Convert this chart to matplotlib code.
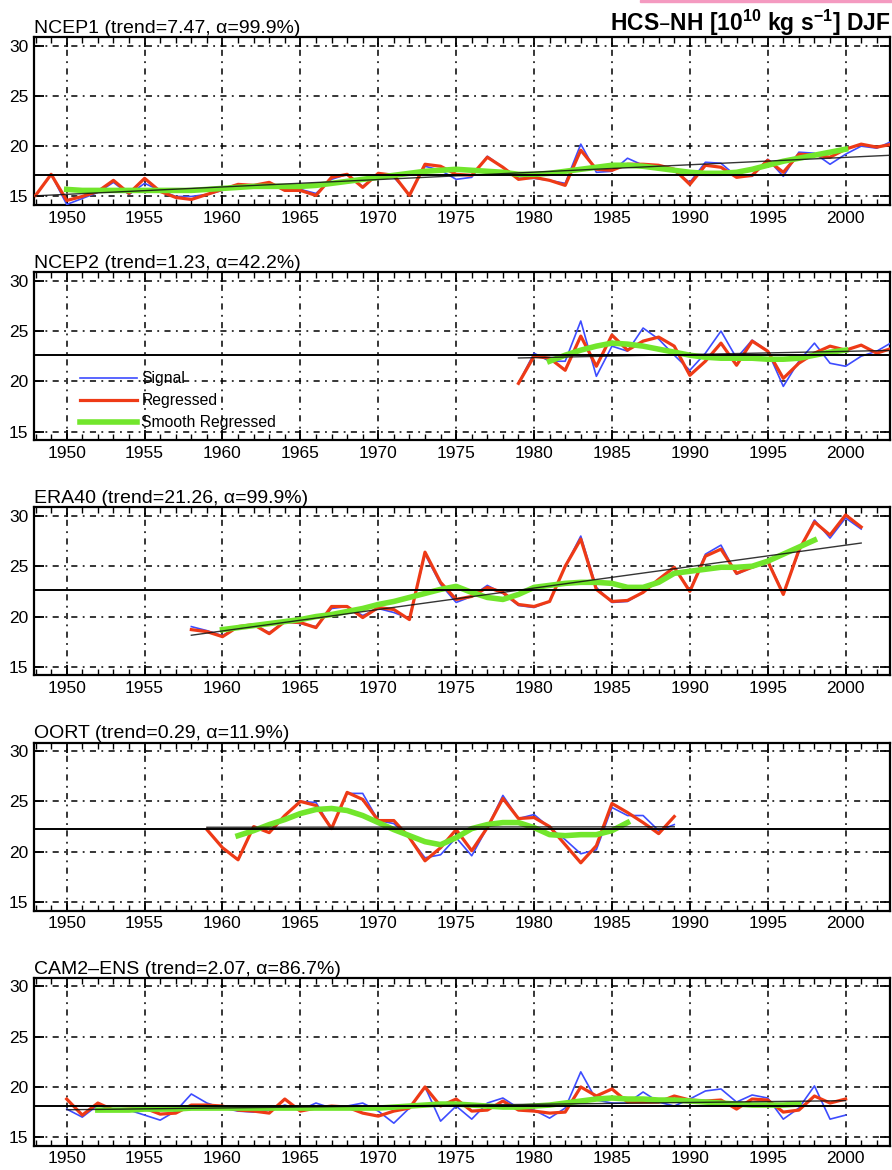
import numpy as np
import matplotlib.pyplot as plt
from matplotlib.ticker import MultipleLocator, FixedLocator
from matplotlib.patches import Rectangle

plt.rcParams['font.family'] = ['Liberation Sans', 'DejaVu Sans']
plt.rcParams['mathtext.default'] = 'regular'

# datasets, trend stats and horizontal reference level
names = ['NCEP1', 'NCEP2', 'ERA40', 'OORT', 'CAM2–ENS']
trends = ['7.47', '1.23', '21.26', '0.29', '2.07']
alphas = ['99.9', '42.2', '99.9', '11.9', '86.7']
mean_levels = [17.1, 22.6, 22.6, 22.3, 18.1]

# first year of signal/regressed series
start_years = [1948, 1979, 1958, 1959, 1950]

ncep1_signal = [15.1, 17.2, 14.2, 14.8, 15.4, 16.4, 15.2, 16.3, 15.6, 15.0, 15.0, 15.2, 15.6, 16.1,
                16.1, 16.3, 15.6, 15.7, 15.3, 16.7, 17.2, 16.0, 17.2, 16.9, 15.2, 18.0, 17.6, 16.7,
                16.9, 19.0, 17.9, 16.8, 16.8, 16.6, 16.3, 20.2, 17.4, 17.5, 18.8, 18.1, 18.0, 17.5,
                16.4, 18.4, 18.3, 17.0, 17.0, 18.7, 17.0, 19.4, 19.3, 18.2, 19.2, 20.0, 19.8, 20.5]
ncep1_regressed = [15.1, 17.2, 14.6, 15.0, 15.5, 16.6, 15.3, 16.8, 15.5, 14.9, 14.7, 15.2, 15.7, 16.2,
                   16.1, 16.4, 15.6, 15.6, 15.1, 16.9, 17.2, 15.9, 17.3, 17.1, 15.1, 18.2, 18.0, 17.2,
                   17.1, 18.9, 17.9, 16.7, 16.9, 16.6, 16.1, 19.6, 17.7, 17.6, 18.2, 18.2, 18.1, 17.7,
                   16.2, 18.1, 17.9, 16.9, 17.1, 18.6, 17.4, 19.2, 19.1, 18.9, 19.7, 20.2, 19.9, 20.2]

ncep2_signal = [19.8, 22.8, 22.0, 22.0, 26.0, 20.5, 23.5, 23.0, 25.3, 24.2, 22.6, 21.1, 22.8,
                25.0, 22.3, 24.1, 23.0, 19.5, 22.0, 23.8, 21.8, 21.5, 22.5, 23.0, 23.9]
ncep2_regressed = [19.8, 22.5, 22.3, 21.1, 24.5, 21.5, 24.6, 23.1, 24.0, 24.4, 23.5, 20.6, 22.0,
                   23.8, 21.6, 24.0, 23.0, 20.3, 21.8, 22.8, 23.5, 23.1, 23.6, 22.8, 23.3]

era40_signal = [19.0, 18.6, 18.1, 19.0, 19.2, 18.4, 19.5, 19.3, 19.0, 20.8, 21.0, 20.1, 20.8, 20.4,
                19.8, 26.2, 23.2, 21.4, 22.0, 23.1, 22.3, 21.1, 20.9, 21.5, 25.0, 28.0, 22.9, 21.4,
                21.5, 22.4, 23.6, 24.9, 22.6, 26.2, 27.1, 24.2, 24.9, 25.6, 22.3, 26.4, 29.6, 27.8,
                29.8, 28.7]
era40_regressed = [18.7, 18.5, 18.0, 19.0, 19.2, 18.3, 19.5, 19.4, 18.9, 21.0, 21.0, 19.9, 20.9, 20.7,
                   19.7, 26.4, 23.4, 21.7, 22.0, 22.9, 22.4, 21.2, 21.0, 21.5, 25.0, 27.7, 22.7, 21.5,
                   21.6, 22.4, 23.7, 24.9, 22.5, 26.0, 26.7, 24.3, 24.9, 25.5, 22.2, 26.6, 29.4, 28.1,
                   30.1, 28.9]

oort_signal = [22.2, 20.4, 19.2, 22.5, 21.9, 23.6, 25.0, 24.9, 22.3, 25.8, 25.8, 23.1, 22.8, 21.4,
               19.4, 19.7, 21.4, 19.6, 22.4, 25.6, 23.3, 23.7, 22.4, 21.2, 19.8, 20.2, 24.4, 23.6,
               23.6, 22.1, 22.7]
oort_regressed = [22.2, 20.4, 19.2, 22.5, 21.9, 23.6, 25.0, 24.6, 22.3, 25.9, 25.2, 23.1, 23.1, 21.4,
                  19.1, 20.4, 22.2, 20.1, 22.4, 25.3, 23.3, 23.4, 22.5, 20.7, 18.9, 20.6, 24.8, 23.9,
                  22.9, 21.8, 23.5]

cam2_signal = [17.8, 17.0, 18.2, 17.7, 17.7, 17.2, 16.7, 17.6, 19.3, 18.4, 17.9, 17.6, 17.5, 17.7,
               18.2, 17.7, 18.4, 17.9, 18.1, 18.4, 17.6, 16.4, 17.9, 20.0, 16.6, 18.1, 16.8, 18.4,
               18.9, 17.9, 17.7, 16.9, 17.9, 21.5, 18.7, 18.4, 18.4, 19.5, 18.5, 18.1, 18.8, 19.6,
               19.8, 18.5, 19.2, 18.9, 16.8, 17.9, 20.1, 16.8, 17.2]
cam2_regressed = [18.8, 17.2, 18.4, 17.7, 17.8, 17.9, 17.3, 17.4, 18.2, 18.2, 18.1, 17.7, 17.6, 17.4,
                  18.8, 17.6, 17.9, 18.1, 18.0, 17.4, 17.1, 17.6, 17.9, 20.0, 18.1, 18.8, 17.6, 17.7,
                  18.6, 17.7, 17.6, 17.4, 17.5, 20.0, 19.1, 19.8, 18.5, 18.5, 18.5, 19.1, 18.7, 18.6,
                  18.7, 17.8, 18.8, 18.7, 17.5, 17.7, 19.1, 18.4, 18.8]

# smoothed regressed series
smooth_start = [1950, 1981, 1960, 1961, 1952]
ncep1_smooth = [15.7, 15.6, 15.6, 15.6, 15.6, 15.6, 15.6, 15.6, 15.6, 15.7, 15.8, 15.9, 16.0, 16.0,
                16.0, 16.0, 16.1, 16.3, 16.5, 16.7, 16.9, 17.1, 17.3, 17.5, 17.6, 17.7, 17.6, 17.5,
                17.4, 17.2, 17.2, 17.3, 17.5, 17.7, 17.9, 18.1, 18.1, 18.0, 17.8, 17.6, 17.4, 17.3,
                17.3, 17.4, 17.7, 18.1, 18.5, 18.8, 19.1, 19.4, 19.7]
ncep2_smooth = [22.0, 22.6, 23.1, 23.5, 23.8, 23.7, 23.5, 23.2, 22.9, 22.6, 22.4, 22.3, 22.3, 22.3,
                22.2, 22.2, 22.3, 22.6, 22.9, 23.1]
era40_smooth = [18.7, 18.9, 19.1, 19.3, 19.5, 19.7, 20.0, 20.2, 20.5, 20.8, 21.2, 21.5, 21.9, 22.3,
                22.7, 23.0, 22.4, 21.9, 21.7, 22.2, 22.9, 23.1, 23.3, 23.4, 23.4, 23.3, 22.9, 22.9,
                23.4, 24.3, 24.5, 24.7, 24.9, 24.9, 25.0, 25.5, 26.2, 26.9, 27.6]
oort_smooth = [21.6, 22.1, 22.7, 23.2, 23.8, 24.2, 24.3, 24.1, 23.6, 22.9, 22.2, 21.6, 21.0, 20.7,
               21.4, 22.3, 22.7, 22.9, 22.9, 22.4, 21.7, 21.6, 21.7, 21.7, 22.1, 22.9]
cam2_smooth = [17.7, 17.7, 17.7, 17.8, 17.8, 17.8, 17.9, 17.9, 17.9, 17.9, 17.9, 17.9, 17.9, 17.9,
               17.9, 17.9, 17.9, 17.9, 17.9, 18.0, 18.1, 18.2, 18.3, 18.3, 18.2, 18.1, 18.0, 18.0,
               18.1, 18.2, 18.4, 18.6, 18.8, 18.9, 18.8, 18.8, 18.7, 18.7, 18.6, 18.5, 18.4, 18.3,
               18.2, 18.2, 18.2, 18.3]

signals = [ncep1_signal, ncep2_signal, era40_signal, oort_signal, cam2_signal]
regressed = [ncep1_regressed, ncep2_regressed, era40_regressed, oort_regressed, cam2_regressed]
smooths = [ncep1_smooth, ncep2_smooth, era40_smooth, oort_smooth, cam2_smooth]

BLUE = '#3d4cff'
RED = '#ee3a16'
GREEN = '#72e62c'

W, H = 892, 1170
fig = plt.figure(figsize=(W / 100, H / 100), dpi=100)

grid_style = (0, (4, 3.5, 1.2, 3.5))

for i in range(5):
    top = 37 + i * 235.2
    ax = fig.add_axes([34 / W, 1 - (top + 168) / H, 856 / W, 168 / H])

    yrs = np.arange(start_years[i], start_years[i] + len(regressed[i]))
    gyrs = np.arange(smooth_start[i], smooth_start[i] + len(smooths[i]))
    red = np.array(regressed[i])

    ax.plot(yrs, signals[i], color=BLUE, lw=1.2, label='Signal', zorder=3)
    ax.plot(yrs, red, color=RED, lw=2.3, label='Regressed', zorder=4)
    ax.plot(gyrs, smooths[i], color=GREEN, lw=4.0, label='Smooth Regressed', zorder=5)

    # linear trend over the regressed record
    p = np.polyfit(yrs, red, 1)
    ends = yrs[[0, -1]]
    ax.plot(ends, np.polyval(p, ends), color='#111111', lw=1.0, alpha=0.85, zorder=6)
    ax.axhline(mean_levels[i], color='k', lw=1.4, zorder=7)

    ax.set_xlim(1947.9, 2002.85)
    ax.set_ylim(14.15, 30.85)
    ax.xaxis.set_major_locator(MultipleLocator(5))
    ax.xaxis.set_minor_locator(MultipleLocator(1))
    ax.yaxis.set_major_locator(FixedLocator([15, 20, 25, 30]))
    ax.tick_params(which='both', direction='in', top=True, right=True, labelsize=12.5)
    ax.tick_params(which='major', length=7, width=1.3, pad=4)
    ax.tick_params(which='minor', length=4, width=1.0)
    ax.grid(True, which='major', color='k', lw=1.1, linestyle=grid_style)
    ax.set_axisbelow(True)
    for s in ax.spines.values():
        s.set_linewidth(1.6)

    ax.set_title(f'{names[i]} (trend={trends[i]}, α={alphas[i]}%)',
                 loc='left', fontsize=14, pad=3)

    if i == 1:
        ax.legend(loc='lower left', bbox_to_anchor=(0.054, 0.058), frameon=False,
                  fontsize=11.3, handlelength=3.6, handletextpad=0.3,
                  labelspacing=0.45, borderpad=0, borderaxespad=0)

fig.text(890 / W, 1 - 31 / H, 'HCS–NH [10$^{10}$ kg s$^{-1}$] DJF',
         ha='right', va='baseline', fontsize=16.5, fontweight='bold')
fig.add_artist(Rectangle((640 / W, 1 - 2 / H), (W - 640) / W, 2 / H,
                         color='#f49ac0', transform=fig.transFigure))

fig.savefig('out.png', dpi=100)
